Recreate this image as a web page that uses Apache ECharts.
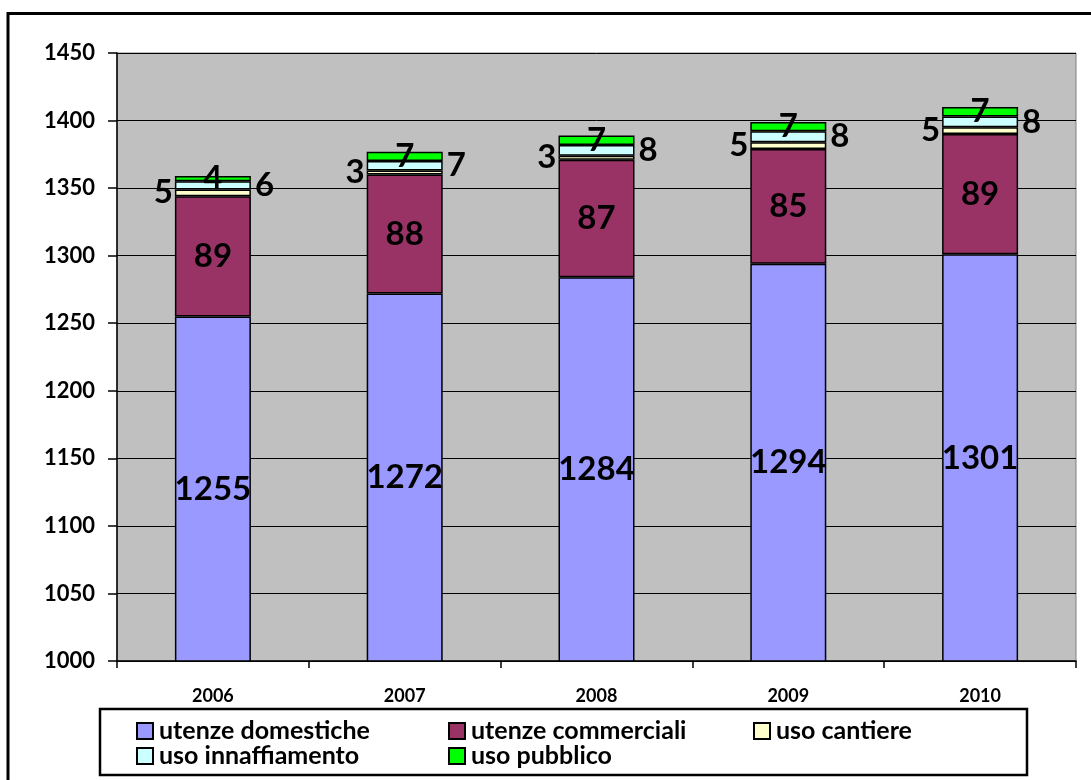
<!DOCTYPE html>
<html><head><meta charset="utf-8">
<script src="https://cdn.jsdelivr.net/npm/echarts@6/dist/echarts.min.js"></script>
<style>html,body{margin:0;padding:0;background:#fff}#c{width:1091px;height:780px}</style>
</head><body><div id="c"></div>
<script>
const years = ['2006','2007','2008','2009','2010'];
const domestiche = [1255,1272,1284,1294,1301];
const commerciali = [89,88,87,85,89];
const cantiere = [5,3,3,5,5];
const innaffiamento = [6,7,8,8,8];
const pubblico = [4,7,7,7,7];
const seriesNames = ['utenze domestiche','utenze commerciali','uso cantiere','uso innaffiamento','uso pubblico'];
const yTicks = {min:1000, max:1450, interval:50};

const FONT = 'Lato';
const labelBase = {show:true, color:'#000', fontFamily:FONT, fontWeight:'bold', fontSize:33};
function ser(name, data, color, pos, dist){
  return {name, type:'bar', stack:'t', data, barWidth:76,
    itemStyle:{color, borderColor:'#000', borderWidth:1.5},
    label:Object.assign({}, labelBase, {position:pos, distance:dist||2}),
    emphasis:{disabled:true}};
}
function leg(name, left, top){
  return {data:[name], left, top, icon:'rect', itemWidth:16, itemHeight:16, itemGap:5, padding:0,
    itemStyle:{borderColor:'#000', borderWidth:2},
    textStyle:{fontFamily:FONT, fontWeight:'bold', fontSize:25, lineHeight:26, color:'#000', padding:[0,0,0,1]}};
}
const chart = echarts.init(document.getElementById('c'));
chart.setOption({
  animation:false,
  backgroundColor:'#fff',
  grid:{left:117, right:15, top:53, bottom:119, show:true, backgroundColor:'#C0C0C0', borderColor:'#808080', borderWidth:1},
  xAxis:{type:'category', data:years,
    axisLine:{lineStyle:{color:'#000', width:1.5}},
    axisTick:{show:true, length:7, lineStyle:{color:'#000', width:1.5}},
    axisLabel:{margin:26, color:'#000', fontFamily:FONT, fontWeight:'bold', fontSize:18}},
  yAxis:{type:'value', min:yTicks.min, max:yTicks.max, interval:yTicks.interval,
    axisLine:{show:true, lineStyle:{color:'#000', width:1.5}},
    axisTick:{show:true, length:9, lineStyle:{color:'#000', width:1.5}},
    splitLine:{lineStyle:{color:'#000', width:1}},
    axisLabel:{margin:22, color:'#000', fontFamily:FONT, fontWeight:'bold', fontSize:22, formatter:v=>String(v)}},
  legend:[
    leg(seriesNames[0], 136, 718),
    leg(seriesNames[1], 448, 718),
    leg(seriesNames[2], 753, 718),
    leg(seriesNames[3], 136, 743),
    leg(seriesNames[4], 448, 743)
  ],
  graphic:[
    {type:'rect', shape:{x:8, y:13.5, width:1200, height:900}, style:{fill:null, stroke:'#000', lineWidth:3}, silent:true},
    {type:'rect', shape:{x:100, y:709, width:927, height:66}, style:{fill:null, stroke:'#000', lineWidth:2.5}, silent:true}
  ],
  series:[
    ser(seriesNames[0], domestiche, '#9999FF', 'inside'),
    ser(seriesNames[1], commerciali, '#993366', 'inside'),
    ser(seriesNames[2], cantiere, '#FFFFCC', 'left', 2),
    ser(seriesNames[3], innaffiamento, '#CCFFFF', 'right', 4),
    ser(seriesNames[4], pubblico, '#00FF00', 'inside')
  ]
});
</script></body></html>
